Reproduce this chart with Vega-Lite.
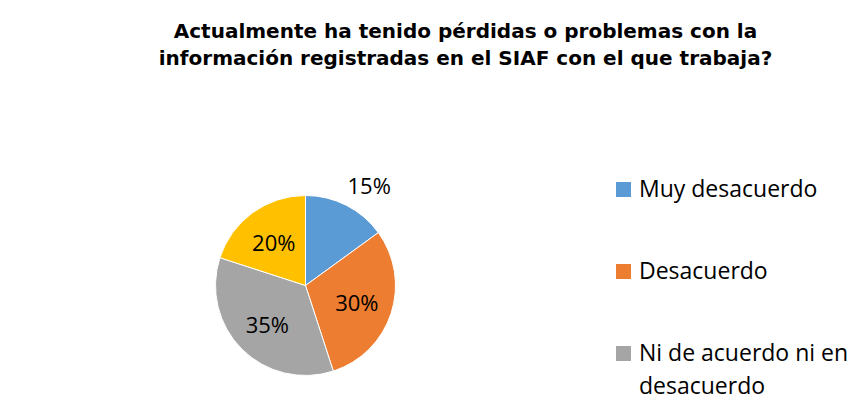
{
  "$schema": "https://vega.github.io/schema/vega-lite/v6.json",
  "autosize": {"type": "none"},
  "padding": {"left": 215, "top": 195, "right": 464, "bottom": 40},
  "width": 181,
  "height": 181,
  "background": "white",
  "config": {
    "view": {"stroke": null},
    "style": {"guide-label": {"lineHeight": 33}}
  },
  "title": {
    "text": ["Actualmente ha tenido pérdidas o problemas con la", "información registradas en el SIAF con el que trabaja?"],
    "font": "DejaVu Sans",
    "fontSize": 20,
    "fontWeight": "bold",
    "color": "#000000",
    "lineHeight": 27,
    "anchor": "middle",
    "offset": 107,
    "dx": 160
  },
  "data": {
    "values": [
      {"categoria": "Muy desacuerdo", "valor": 0.15, "orden": 1},
      {"categoria": "Desacuerdo", "valor": 0.30, "orden": 2},
      {"categoria": "Ni de acuerdo ni en desacuerdo", "valor": 0.35, "orden": 3},
      {"categoria": "De acuerdo", "valor": 0.20, "orden": 4}
    ]
  },
  "encoding": {
    "theta": {"field": "valor", "type": "quantitative", "stack": true},
    "order": {"field": "orden", "type": "quantitative"}
  },
  "layer": [
    {
      "mark": {"type": "arc", "radius": 90, "stroke": "white", "strokeWidth": 1},
      "encoding": {
        "color": {
          "field": "categoria",
          "type": "nominal",
          "scale": {
            "domain": ["Muy desacuerdo", "Desacuerdo", "Ni de acuerdo ni en desacuerdo", "De acuerdo"],
            "range": ["#5B9BD5", "#ED7D31", "#A5A5A5", "#FFC000"]
          },
          "legend": {
            "orient": "none",
            "legendX": 397,
            "legendY": -17,
            "title": null,
            "values": ["Muy desacuerdo", "Desacuerdo", "Ni de acuerdo ni en desacuerdo"],
            "symbolType": "square",
            "symbolSize": 225,
            "symbolStrokeWidth": 0,
            "labelFont": "Open Sans",
            "labelFontSize": 23,
            "labelColor": "#000000",
            "rowPadding": 58,
            "labelOffset": 4,
            "padding": 0,
            "labelLimit": 400,
            "labelExpr": "datum.label == 'Ni de acuerdo ni en desacuerdo' ? ['Ni de acuerdo ni en', 'desacuerdo'] : datum.label"
          }
        }
      }
    },
    {
      "mark": {"type": "text", "radius": 54, "dy": 2, "font": "Open Sans", "fontSize": 22, "color": "#000000"},
      "encoding": {
        "text": {"condition": {"test": "datum.orden == 1", "value": ""}, "field": "valor", "type": "quantitative", "format": ".0%"}
      }
    },
    {
      "mark": {"type": "text", "radius": 116, "dx": 11, "dy": 5, "font": "Open Sans", "fontSize": 22, "color": "#000000"},
      "encoding": {
        "text": {"condition": {"test": "datum.orden != 1", "value": ""}, "field": "valor", "type": "quantitative", "format": ".0%"}
      }
    }
  ]
}
